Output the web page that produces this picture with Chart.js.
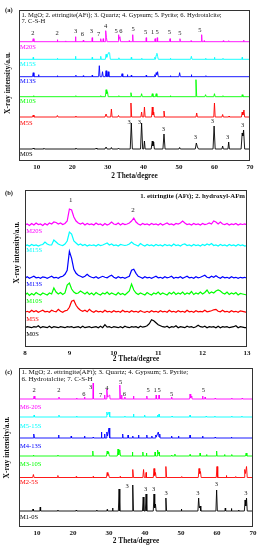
<!DOCTYPE html>
<html><head><meta charset="utf-8">
<script src="https://cdn.jsdelivr.net/npm/chart.js@4.4.0/dist/chart.umd.min.js"></script>
<style>
html,body{margin:0;padding:0;background:#fff;width:264px;height:550px;overflow:hidden}
canvas{position:absolute;left:0}
</style></head><body>
<canvas id="ca" width="264" height="182" style="top:0px"></canvas>
<canvas id="cb" width="264" height="186" style="top:182px"></canvas>
<canvas id="cc" width="264" height="188" style="top:362px"></canvas>
<script>
// ---------- tick labels ----------
const TICKS_AC = [10, 20, 30, 40, 50, 60, 70];
const TICKS_B = [8, 9, 10, 11, 12, 13];

// ---------- series names & colours ----------
const NAMES_A = ["M0S", "M5S", "M10S", "M13S", "M15S", "M20S"];
const NAMES_B = ["M0S", "M5S", "M10S", "M13S", "M15S", "M20S"];
const NAMES_C = ["M1-0S", "M2-5S", "M3-10S", "M4-13S", "M5-15S", "M6-20S"];
const COLORS = ["#000000", "#ff0000", "#00ff00", "#0000ff", "#00ffff", "#ff00ff"];

// ---------- panel (a): [2theta, intensity above own baseline] ----------
const A_M0S = [[5,0],[8.8,0],[9.0,1],[9.2,0],[11.8,0],[12.0,0.8],[12.2,0],[20.8,0],[21.0,1],[21.2,0],[26.5,0],[26.7,1],[26.9,0],[29.2,0],[29.5,2],[29.8,0],[30.8,0],[31.0,1.5],[31.2,0],[32.8,0],[33.0,1],[33.2,0],[36.3,0],[36.6,26],[36.9,0],[39.2,0],[39.5,26],[39.8,0],[40.1,0],[40.3,8],[40.5,0],[42.2,0],[42.5,8],[42.7,3],[42.9,7],[43.1,0],[45.5,0],[45.8,15],[46.1,0],[50.0,0],[50.2,1.5],[50.4,0],[54.6,0],[54.9,6],[55.2,2],[55.5,0],[59.6,0],[59.9,23],[60.2,0],[62.1,0],[62.3,3],[62.5,0],[63.8,0],[64.0,7],[64.2,0],[67.5,0],[67.8,16],[68.0,13],[68.2,19],[68.5,0],[70,0]];
const A_M5S = [[5,0],[8.8,0],[9.0,2],[9.2,0],[15.6,0],[15.8,1.5],[16.0,0],[20.9,0],[21.0,1],[21.1,0],[29.2,0],[29.5,3],[29.8,0],[30.8,0],[31.0,8],[31.2,0],[32.8,0],[33.0,1.5],[33.2,0],[36.3,0],[36.5,14],[36.7,0],[39.3,0],[39.5,5],[39.7,0],[40.1,0],[40.3,10],[40.5,0],[42.3,0],[42.5,10],[42.7,2],[42.9,5],[43.1,0],[45.6,0],[45.8,6],[46.0,0],[54.8,0],[55.0,4],[55.2,0],[59.8,0],[60.0,14],[60.2,0],[62.1,0],[62.3,2.5],[62.5,0],[64.0,0],[64.1,1],[64.2,0],[67.6,0],[67.8,5],[68.0,2],[68.3,7],[68.5,0],[70,0]];
const A_M10S = [[5,0],[9.0,0],[9.1,1],[9.2,0],[20.9,0],[21.0,1],[21.1,0],[27.9,0],[28.0,1],[28.1,0],[29.3,0],[29.5,7],[29.7,3],[29.9,5],[30.1,0],[33.0,0],[33.1,1],[33.2,0],[36.3,0],[36.5,4],[36.7,0],[39.3,0],[39.5,3],[39.7,0],[42.3,0],[42.5,3],[42.7,0],[43.4,0],[43.6,3],[43.8,0],[47.5,0],[47.6,1],[47.7,0],[54.6,0],[54.8,17],[55.0,0],[57.3,0],[57.5,2],[57.7,0],[59.8,0],[60.0,3],[60.2,0],[62.3,0],[62.4,1],[62.5,0],[67.7,0],[67.8,2],[68.0,0],[70,0]];
const A_M13S = [[5,0],[8.8,0],[9.0,4],[9.2,0],[10.4,0],[10.5,2],[10.6,0],[15.7,0],[15.8,1],[15.9,0],[20.9,0],[21.0,1.5],[21.1,0],[23.0,0],[23.1,1],[23.2,0],[25.5,0],[25.6,1.5],[25.7,0],[27.4,0],[27.6,11],[27.8,0],[28.3,0],[28.5,5],[28.7,0],[29.3,0],[29.5,6],[29.7,0],[29.9,0],[30.1,5],[30.3,0],[33.8,0],[34.0,3],[34.2,0],[35.4,0],[35.5,2],[35.6,0],[36.5,0],[36.6,1.5],[36.7,0],[40.7,0],[40.8,1.5],[40.9,0],[43.0,0],[43.2,2],[43.4,0],[43.6,4],[43.8,2],[44.0,5],[44.2,0],[47.5,0],[47.6,1],[47.7,0],[50.0,0],[50.2,4],[50.4,0],[53.4,0],[53.5,2],[53.6,0],[57.5,0],[57.6,1],[57.7,0],[70,0]];
const A_M15S = [[5,0],[8.9,0],[9.0,2],[9.1,0],[15.7,0],[15.8,1],[15.9,0],[20.8,0],[20.9,3],[21.0,0],[25.5,0],[25.6,2],[25.7,0],[27.9,0],[28.0,3],[28.1,0],[29.3,0],[29.5,5],[29.7,2],[29.9,4],[30.1,6],[30.3,7],[30.5,6],[30.7,0],[33.0,0],[33.1,1.5],[33.2,0],[36.5,0],[36.6,2],[36.7,0],[39.4,0],[39.5,1],[39.6,0],[43.0,0],[43.2,2],[43.4,0],[43.6,4],[43.8,6],[44.0,3],[44.2,0],[47.5,0],[47.6,1],[47.7,0],[53.3,0],[53.5,3],[53.7,0],[57.4,0],[57.5,1],[57.6,0],[59.9,0],[60.0,2],[60.1,0],[62.3,0],[62.4,1],[62.5,0],[67.7,0],[67.8,2],[67.9,0],[70,0]];
const A_M20S = [[5,0],[8.8,0],[9.0,3],[9.2,0],[15.7,0],[15.8,2],[15.9,0],[18.0,0],[18.1,0.8],[18.2,0],[20.8,0],[20.9,5],[21.0,0],[23.0,0],[23.1,1.5],[23.2,0],[25.5,0],[25.6,4],[25.7,0],[27.9,0],[28.0,3],[28.1,0],[28.6,0],[28.7,3],[28.8,0],[29.2,0],[29.4,11],[29.6,4],[29.8,0],[32.9,0],[33.0,7],[33.1,2],[33.4,5],[33.6,0],[35.9,0],[36.0,1],[36.1,0],[36.9,0],[37.0,7],[37.1,0],[40.7,0],[40.8,4],[40.9,0],[43.2,0],[43.3,3],[43.4,0],[43.8,0],[43.9,4],[44.0,0],[47.4,0],[47.5,3],[47.6,0],[50.2,0],[50.3,3],[50.4,0],[53.3,0],[53.4,1],[53.5,0],[56.3,0],[56.4,7],[56.5,0],[57.0,0],[57.1,1],[57.2,0],[62.4,0],[62.5,1],[62.6,0],[63.9,0],[64.0,1],[64.1,0],[68.1,0],[68.2,1.5],[68.3,0],[70,0]];
const A_OFFSETS = [12, 44, 64.3, 84.3, 101.7, 119.3];

// ---------- panel (b): shared 2theta grid, intensities above baseline ----------
const B_X = [8,8.05,8.1,8.15,8.2,8.25,8.3,8.35,8.4,8.45,8.5,8.55,8.6,8.65,8.7,8.75,8.8,8.85,8.9,8.95,
 9,9.05,9.1,9.15,9.2,9.25,9.3,9.35,9.4,9.45,9.5,9.55,9.6,9.65,9.7,9.75,9.8,9.85,9.9,9.95,
 10,10.05,10.1,10.15,10.2,10.25,10.3,10.35,10.4,10.45,10.5,10.55,10.6,10.65,10.7,10.75,10.8,10.85,10.9,10.95,
 11,11.05,11.1,11.15,11.2,11.25,11.3,11.35,11.4,11.45,11.5,11.55,11.6,11.65,11.7,11.75,11.8,11.85,11.9,11.95,
 12,12.05,12.1,12.15,12.2,12.25,12.3,12.35,12.4,12.45,12.5,12.55,12.6,12.65,12.7,12.75,12.8,12.85,12.9,12.95,13];
const B_M0S = [0,1,0.5,0,1,0.5,2,0,1,0.5, 0,1.5,0,1,0.5,0,1,0.5,0,1, 0.5,1,0,0.5,1,0,1.5,0,0.5,1, 0,0.5,1,0,1.5,0,3,0.5,1,0,
 1,0.5,0,1,0,1.5,0.5,0,1,0.5, 1,0,1.5,0.5,1,2,4,8,7,5, 3,2,1,0.5,1.5,0,1,0.5,2,0, 1,0.5,0,1.5,0.5,1,0,1,2.5,1,
 0.5,1.5,0,1,0.5,1,0,1.5,0,1, 0.5,1,0,0.5,1,2,0,1,0.5,0, 0];
const B_M5S = [0,1,0,2,0.5,1.5,0,1,2,0.5, 1,0,2,1,0.5,3,1,0,1.5,2, 5,11,12,7,4,2,1,2,0.5,3, 1,0,1.5,0.5,1,0,2,0.5,1,0,
 1.5,0.5,1,0,2,0.5,1,0,1.5,0.5, 1,0,1.5,0.5,0,1,0,1.5,0.5,1, 0,1.5,0.5,1,0,2,0.5,1,0,1.5, 0.5,1,0,2,0.5,1,0,1.5,0.5,1,
 0.5,2,0.5,1,1.5,2.5,3,1,0.5,2, 0.5,1,0,1.5,0.5,1,0,1.5,1,0.5, 0];
const B_M10S = [0,2,-0.5,1.5,0,2.5,1,0,2,1, 0,2,1,7,3,1,2.5,0.5,2,10, 12,6,3,1.5,2,4,2.5,1,3,0.5, 2,0,2.5,1,0,2,1,3,0.5,2,
 1,0,2.5,0.5,1.5,0,2,4,11,5, 2,0.5,2,1,0,2.5,1,0,2,1, 3,0.5,2,1,0,2.5,1,3,0.5,2, 1,3,0.5,2,1,3.5,0.5,2,1,3,
 1,2.5,5,1.5,3,2,4,5,4,2, 1,3,0.5,2,1,2.5,0,1.5,1,0.5, 0];
const B_M13S = [0,1.5,0,1,2,0.5,1,0,1.5,1, 0,1,2,0.5,1,0,1.5,2,4,8, 27,20,9,5,3,2,1,2,4,2, 1,0.5,1.5,0,1,2,1,0.5,2,3,
 1,0,1.5,0.5,1,0,1,2,8,9, 5,2,1,0,1.5,0.5,1,0,1,2, 0.5,1,0,1.5,0.5,1,2,0,1,0.5, 1.5,0,1,2,0.5,1,0,1.5,0.5,1,
 2,3,1,0.5,2,1,2.5,1,0,1.5, 0.5,1,0,1.5,0.5,1,0,1,0.5,1, 0];
const B_M15S = [0,1,0,1.5,0.5,1,0,1,1.5,4, 2,1,1,6,4,2,1,0.5,2,5, 14,12,5,3,1,2,0.5,1.5,0,1, 0.5,1,0,1.5,0.5,1,2,3,1,2,
 0.5,1,0,1.5,1,0.5,1,2,4,2, 1,0,2.5,1,0,1.5,0.5,1,0,1.5, 0.5,1,0,1.5,0.5,1,0,2,0.5,1, 0,1.5,2,0.5,1,0,1.5,0.5,1,0,
 1.5,0.5,2,1,2.5,0.5,1,0,1.5,0.5, 1,0,1.5,0.5,1,0,1.5,0.5,1,0, 0.5];
const B_M20S = [0,1,-0.5,1.5,0,2,0.5,1,-0.5,1.5, 0,2,1,3,2.5,1,2,0.5,1.5,4, 16,15,8,4,2,1,2,0,1.5,0.5, 1,0,2,0.5,1,-0.5,1.5,0,1,3,
 1,0.5,2,0,1.5,0.5,1,2,4,7, 3,1,0,1.5,0.5,1,0,1.5,0.5,1, 0,1.5,0,1,2,0.5,1,0,1.5,1, 2,4,2,0.5,1,0,1.5,0.5,1,0,
 1.5,0.5,1,2,1,4,3,1,3,1, 0.5,1.5,0,1,0.5,1.5,0,1,0.5,1, 0];
const B_OFFSETS = [19.3, 34.7, 52, 68.7, 101, 122];

// ---------- panel (c) ----------
const C_M1 = [[5,0],[8.8,0],[8.9,2],[9.0,0],[10.8,0],[10.9,4],[11.0,0],[15.7,0],[15.8,1],[15.9,0],[20.8,0],[20.9,1],[21.0,0],[26.5,0],[26.6,1],[26.7,0],[29.4,0],[29.5,1.5],[29.6,0],[30.9,0],[31.0,3],[31.1,0],[32.6,0],[32.8,22],[33.0,0],[36.4,0],[36.6,26],[36.8,0],[39.3,0],[39.5,14],[39.7,0],[40.1,0],[40.3,17],[40.5,0],[42.3,0],[42.5,17],[42.7,3],[42.9,7],[43.1,0],[45.6,0],[45.8,13],[46.0,0],[50.0,0],[50.1,2],[50.2,0],[54.7,0],[54.9,13],[55.1,3],[55.3,5],[55.5,0],[59.7,0],[59.9,21],[60.1,0],[62.2,0],[62.3,3],[62.4,0],[63.9,0],[64.0,2.5],[64.1,0],[65.9,0],[66.0,1],[66.1,0],[67.6,0],[67.8,11],[68.0,5],[68.2,13],[68.4,0],[70,0]];
const C_M2 = [[5,0],[8.8,0],[9.0,3],[9.2,0],[15.7,0],[15.8,2],[15.9,0],[20.8,0],[20.9,1],[21.0,0],[25.5,0],[25.6,1],[25.7,0],[29.3,0],[29.5,5],[29.7,2],[29.9,3],[30.1,0],[33.0,0],[33.1,1],[33.2,0],[36.4,0],[36.6,8],[36.8,0],[39.4,0],[39.6,8],[39.8,0],[40.2,0],[40.3,5],[40.4,0],[42.3,0],[42.5,9],[42.7,2],[42.9,5],[43.1,0],[45.6,0],[45.8,11],[46.0,0],[50.1,0],[50.2,1],[50.3,0],[54.8,0],[55.0,9],[55.2,4],[55.4,6],[55.6,0],[59.8,0],[60.0,11],[60.2,0],[62.5,0],[62.6,2],[62.7,0],[65.1,0],[65.2,1],[65.3,0],[67.5,0],[67.7,8],[67.9,4],[68.2,11],[68.4,0],[70,0]];
const C_M3 = [[5,0],[8.9,0],[9.0,1],[9.1,0],[15.7,0],[15.8,1],[15.9,0],[25.4,0],[25.5,5],[25.6,0],[29.3,0],[29.5,5],[29.7,2],[29.9,4],[30.1,0],[32.3,0],[32.5,7],[32.7,1],[33.0,6],[33.2,0],[36.4,0],[36.5,4],[36.6,0],[39.3,0],[39.4,4],[39.5,0],[40.3,0],[40.4,3],[40.5,0],[42.7,0],[42.8,4],[42.9,0],[43.4,0],[43.5,6],[43.7,2],[43.9,4],[44.0,0],[47.3,0],[47.4,1],[47.5,0],[48.2,0],[48.3,2],[48.4,0],[52.4,0],[52.5,1.5],[52.6,0],[55.2,0],[55.3,3],[55.4,0],[57.0,0],[57.1,1.5],[57.2,0],[59.8,0],[59.9,5],[60.0,0],[62.0,0],[62.1,1.5],[62.2,0],[64.0,0],[64.1,1.5],[64.2,0],[67.9,0],[68.1,3],[68.3,0],[70,0]];
const C_M4 = [[5,0],[8.9,0],[9.1,4],[9.3,0],[15.9,0],[16.0,3],[16.1,0],[19.4,0],[19.5,2],[19.6,0],[23.1,0],[23.2,2],[23.3,0],[25.5,0],[25.6,1],[25.7,0],[27.8,0],[27.9,6],[28.0,0],[28.7,0],[28.8,4],[28.9,0],[29.3,0],[29.4,6],[29.6,2],[30.0,10],[30.2,0],[33.7,0],[33.8,4],[33.9,0],[35.2,0],[35.3,3],[35.4,0],[36.5,0],[36.6,2],[36.7,0],[38.1,0],[38.2,3],[38.3,0],[40.4,0],[40.5,3],[40.6,0],[41.8,0],[41.9,2],[42.0,0],[42.9,0],[43.0,3],[43.1,1],[43.7,6],[43.9,1],[44.1,4],[44.2,0],[47.3,0],[47.4,2],[47.5,0],[49.2,0],[49.3,2],[49.4,0],[52.4,0],[52.5,3],[52.6,0],[55.9,0],[56.0,2],[56.1,0],[59.4,0],[59.5,1],[59.6,0],[63.9,0],[64.0,1],[64.1,0],[70,0]];
const C_M5 = [[5,0],[9.1,0],[9.2,2],[9.3,0],[16.0,0],[16.1,2],[16.2,0],[20.9,0],[21.0,1],[21.1,0],[29.3,0],[29.4,5],[29.6,2],[30.0,5],[30.2,0],[34.3,0],[34.4,1],[34.5,0],[36.7,0],[36.8,3],[36.9,0],[39.8,0],[39.9,2],[40.0,0],[43.4,0],[43.5,2],[43.6,0],[43.8,0],[43.9,3],[44.0,0],[47.4,0],[47.5,1],[47.6,0],[52.4,0],[52.5,2],[52.6,0],[56.9,0],[57.0,1],[57.1,0],[59.3,0],[59.4,1],[59.5,0],[64.0,0],[64.1,1],[64.2,0],[66.8,0],[66.9,1],[67.0,0],[70,0]];
const C_M6 = [[5,0],[9.0,0],[9.2,3],[9.4,0],[16.0,0],[16.1,2],[16.2,0],[20.9,0],[21.0,1],[21.1,0],[23.1,0],[23.2,2],[23.3,0],[25.5,0],[25.6,16],[25.7,0],[28.7,0],[28.8,4],[28.9,0],[29.3,0],[29.4,10],[29.6,2],[30.2,4],[30.3,0],[32.9,0],[33.0,14],[33.2,0],[33.4,0],[33.5,4],[33.6,0],[34.3,0],[34.4,2],[34.5,0],[36.7,0],[36.8,3],[36.9,0],[40.4,0],[40.5,3],[40.6,0],[43.0,0],[43.1,4],[43.2,0],[43.8,0],[43.9,4],[44.0,0],[47.3,0],[47.4,2],[47.5,0],[52.4,0],[52.5,5],[52.7,1],[53.0,3],[53.1,0],[55.9,0],[56.0,3],[56.1,0],[56.6,0],[56.7,2],[56.8,0],[59.4,0],[59.5,1],[59.6,0],[64.0,0],[64.1,1],[64.2,0],[66.9,0],[67.0,1],[67.1,0],[70,0]];
const C_OFFSETS = [16, 49.5, 71, 89, 110, 128];

// ---------- peak labels [text, 2theta, y] ----------
const A_PEAKS = [["2",8.9,128],["2",15.7,128],["3",20.9,130],["6",22.8,127],["3",25.4,130],["7",27.4,127],["4",29.4,135],["5",32.3,129.5],["6",33.7,129.5],["5",37.1,132],["5",40.6,128.5],["1",42.6,128.5],["5",43.9,128.5],["5",47.3,129],["5",50.3,128],["5",55.9,130.5],
 ["3",36.0,38.5],["3",38.9,39],["3",45.6,31.5],["3",54.6,23.5],["3",59.4,40],["3",63.7,23.5],["3",67.9,36]];
const B_PEAKS = [["1",9.03,147],["2",10.43,137]];
const C_PEAKS = [["2",9.2,137],["2",16.1,137],["6",23.0,133],["3",24.9,140],["7",27.7,132],["4",29.4,139],["5",33.2,145],["6",34.3,133],["5",40.9,137],["1",42.8,137],["5",43.9,137],["5",47.4,133],["5",56.2,137],
 ["3",35.0,41],["3",40.2,37.5],["3",42.4,38],["3",45.9,33.5],["3",54.7,33.5],["3",59.8,42.5],["3",68.0,33.5]];

// series-name anchors [2theta, y]
const A_NAMEPOS = [[5.3,7],[5.3,38],[5.3,60],[5.3,80],[5.3,97],[5.3,114]];
const B_NAMEPOS = [[8.03,13],[8.03,28],[8.03,45.3],[8.03,63],[8.03,97],[8.03,116]];
const C_NAMEPOS = [[5.3,9.5],[5.3,44.5],[5.3,63],[5.3,81],[5.3,101],[5.3,119.3]];

const SERIF = "'Liberation Serif','Times New Roman',serif";

function framePlugin() {
  return { id: 'frame', afterDatasetsDraw(chart) {
    const {ctx, chartArea: a} = chart;
    ctx.save(); ctx.strokeStyle = '#333'; ctx.lineWidth = 1;
    ctx.strokeRect(Math.round(a.left) + 0.5, Math.round(a.top) + 0.5, Math.round(a.right - a.left) - 1, Math.round(a.bottom - a.top) - 1);
    ctx.restore();
  }};
}
function annotPlugin(cfg) {
  return { id: 'annot', afterDraw(chart) {
    const {ctx} = chart, xs = chart.scales.x, ys = chart.scales.y;
    ctx.save();
    ctx.textBaseline = 'middle';
    ctx.fillStyle = '#222'; ctx.font = cfg.peakFont; ctx.textAlign = 'center';
    cfg.peaks.forEach(([t, x, y]) => ctx.fillText(t, xs.getPixelForValue(x), ys.getPixelForValue(y)));
    ctx.font = cfg.nameFont; ctx.textAlign = 'left';
    cfg.names.forEach((t, i) => { ctx.fillStyle = COLORS[i]; ctx.fillText(t, xs.getPixelForValue(cfg.namePos[i][0]), ys.getPixelForValue(cfg.namePos[i][1])); });
    ctx.fillStyle = '#111';
    cfg.texts.forEach(([t, px, py, font, align]) => { ctx.font = font; ctx.textAlign = align || 'left'; ctx.fillText(t, px, py); });
    const yt = cfg.yTitle;
    ctx.translate(yt.x, yt.y); ctx.rotate(-Math.PI / 2);
    ctx.font = yt.font; ctx.textAlign = 'center'; ctx.fillText(yt.text, 0, 0);
    ctx.restore();
  }};
}

function makeChart(id, p) {
  const datasets = p.series.map((s, i) => ({
    data: s.map(([x, y]) => ({x, y: y + p.offsets[i]})),
    borderColor: COLORS[i], borderWidth: p.lw, pointRadius: 0, tension: 0, fill: false
  }));
  return new Chart(document.getElementById(id), {
    type: 'line',
    data: { datasets },
    options: {
      responsive: false, animation: false, events: [],
      layout: { padding: p.pad },
      plugins: { legend: { display: false }, tooltip: { enabled: false } },
      scales: {
        x: {
          type: 'linear', min: p.xmin, max: p.xmax,
          afterBuildTicks: s => { s.ticks = p.ticks.map(v => ({value: v})); },
          afterFit: s => { s.height = p.xh; s.paddingLeft = 0; s.paddingRight = 0; },
          grid: { display: false, drawTicks: false }, border: { display: false },
          ticks: { autoSkip: false, maxRotation: 0, padding: p.tickPad, color: '#111',
                   font: { family: SERIF, size: 7, weight: 'bold' }, callback: v => String(v) },
          title: { display: true, text: '2 Theta/degree', color: '#111',
                   font: { family: SERIF, size: 7.3, weight: 'bold' }, padding: { top: 0, bottom: p.titlePad } }
        },
        y: { display: false, min: 0, max: p.ymax }
      }
    },
    plugins: [framePlugin(), annotPlugin(p.annot)]
  });
}

const peakFont = "6.5px " + SERIF;
const nameFont = "6.5px " + SERIF;

makeChart('ca', {
  series: [A_M0S, A_M5S, A_M10S, A_M13S, A_M15S, A_M20S], offsets: A_OFFSETS, lw: 0.9,
  xmin: 5, xmax: 70, ticks: TICKS_AC, ymax: 151,
  pad: { left: 19, right: 14, top: 10, bottom: 0 }, xh: 21, tickPad: 1.5, titlePad: 2,
  annot: { peaks: A_PEAKS, peakFont, nameFont, names: NAMES_A, namePos: A_NAMEPOS,
    texts: [["(a)", 5, 10, "bold 6.5px " + SERIF],
            ["1. MgO; 2. ettringite(AFt); 3. Quartz; 4. Gypsum; 5. Pyrite; 6. Hydrotalcite;", 21.5, 15, "6.6px " + SERIF],
            ["7. C-S-H", 21.5, 21.5, "6.6px " + SERIF]],
    yTitle: { text: "X-ray intensity/a.u.", x: 8, y: 83, font: "bold 7.5px " + SERIF } }
});
makeChart('cb', {
  series: [B_M0S, B_M5S, B_M10S, B_M13S, B_M15S, B_M20S].map(ys => B_X.map((x, i) => [x, ys[i]])),
  offsets: B_OFFSETS, lw: 1.2,
  xmin: 8, xmax: 13, ticks: TICKS_B, ymax: 157,
  pad: { left: 25, right: 17, top: 8, bottom: 0 }, xh: 21, tickPad: 1.5, titlePad: 5,
  annot: { peaks: B_PEAKS, peakFont: "7px " + SERIF, nameFont, names: NAMES_B, namePos: B_NAMEPOS,
    texts: [["(b)", 5, 11, "bold 6.5px " + SERIF],
            ["1. ettringite (AFt); 2. hydroxyl-AFm", 245, 14.7, "bold 6.8px " + SERIF, 'right']],
    yTitle: { text: "X-ray intensity/a.u.", x: 16.7, y: 252.5 - 182, font: "bold 7.5px " + SERIF } }
});
makeChart('cc', {
  series: [C_M1, C_M2, C_M3, C_M4, C_M5, C_M6], offsets: C_OFFSETS, lw: 0.9,
  xmin: 5, xmax: 70, ticks: TICKS_AC, ymax: 159,
  pad: { left: 19, right: 11, top: 6, bottom: 0 }, xh: 23, tickPad: 1.5, titlePad: 5,
  annot: { peaks: C_PEAKS, peakFont, nameFont, names: NAMES_C, namePos: C_NAMEPOS,
    texts: [["(c)", 5, 10, "bold 6.5px " + SERIF],
            ["1. MgO; 2. ettringite(AFt); 3. Quartz; 4. Gypsum; 5. Pyrite;", 21.5, 10.5, "7px " + SERIF],
            ["6. Hydrotalcite; 7. C-S-H", 21.5, 17, "7px " + SERIF]],
    yTitle: { text: "X-ray intensity/a.u.", x: 7.5, y: 447.5 - 362, font: "bold 7.5px " + SERIF } }
});
</script>
</body></html>
